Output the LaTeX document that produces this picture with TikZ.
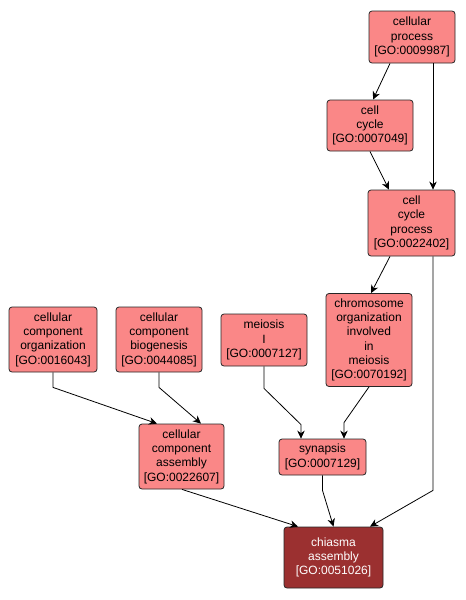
\documentclass[tikz,border=0pt]{standalone}
\usepackage{fontspec}
\setmainfont{Liberation Sans}
\usepackage{xcolor}
\usepackage{tikz}
\usetikzlibrary{arrows.meta,calc}
\definecolor{termred}{RGB}{250,135,135}
\definecolor{focusred}{RGB}{155,48,48}
\newcommand{\gofont}{\fontsize{12}{14.3}\selectfont}

\begin{document}
\begin{tikzpicture}[
  x=1pt,y=-1pt,
  term/.style={rectangle,draw=black!85,fill=termred,rounded corners=3pt,
               line width=0.8pt,minimum width=86pt,inner sep=0pt,
               align=center,font=\gofont},
  focus/.style={term,fill=focusred,text=white,minimum width=99pt},
  arrow/.style={-{Stealth[length=8pt,width=7.5pt,inset=2.5pt]},line width=0.8pt},
]
\useasboundingbox (0,0) rectangle (466,600);

\node[term,minimum height=52pt] (cproc) at (412,37)    {cellular\\process\\{[GO:0009987]}};
\node[term,minimum height=51pt] (ccyc)  at (370,125.5) {cell\\cycle\\{[GO:0007049]}};
\node[term,minimum height=66pt,minimum width=87pt] (ccproc) at (411.5,223) {cell\\cycle\\process\\{[GO:0022402]}};
\node[term,minimum height=93pt] (chrom) at (369,340)   {chromosome\\organization\\involved\\in\\meiosis\\{[GO:0070192]}};
\node[term,minimum height=65pt,minimum width=88pt] (ccorg) at (53,339.5) {cellular\\component\\organization\\{[GO:0016043]}};
\node[term,minimum height=65pt] (ccbio) at (159,339.5) {cellular\\component\\biogenesis\\{[GO:0044085]}};
\node[term,minimum height=52pt] (meio)  at (264,340)   {meiosis\\I\\{[GO:0007127]}};
\node[term,minimum height=65pt,minimum width=85pt] (ccasm) at (181.5,456.5) {cellular\\component\\assembly\\{[GO:0022607]}};
\node[term,minimum height=36pt,minimum width=87pt] (syn) at (322.5,457) {synapsis\\{[GO:0007129]}};
\node[focus,minimum height=61pt] (chia) at (333.5,557.5) {chiasma\\assembly\\{[GO:0051026]}};

\draw[arrow] ([xshift=-22pt]cproc.south) -- ([xshift=3pt]ccyc.north);
\draw[arrow] ([xshift=21pt]cproc.south) -- ([xshift=21.5pt]ccproc.north);
\draw[arrow] (ccyc.south) -- ([xshift=-22.5pt]ccproc.north);
\draw[arrow] ([xshift=-21.5pt]ccproc.south) -- ([xshift=2pt]chrom.north);
\draw[arrow] ([xshift=21.5pt]ccproc.south) -- ++(0,234) -- ([xshift=36.5pt]chia.north);
\draw[arrow] (ccorg.south) -- ++(0,15) -- ([xshift=-24.5pt]ccasm.north);
\draw[arrow] (ccbio.south) -- ++(0,15) -- ([xshift=19.5pt]ccasm.north);
\draw[arrow] (meio.south) -- ++(0,22) -- ($(syn.north)+(-21.5,-14)$) -- ([xshift=-21.5pt]syn.north);
\draw[arrow] (chrom.south) -- ($(syn.north)+(21.5,-16)$) -- ([xshift=21.5pt]syn.north);
\draw[arrow] ([xshift=0.5pt]ccasm.south) -- ([xshift=-35.5pt]chia.north);
\draw[arrow] (syn.south) -- ++(0,15) -- (chia.north);
\end{tikzpicture}
\end{document}
